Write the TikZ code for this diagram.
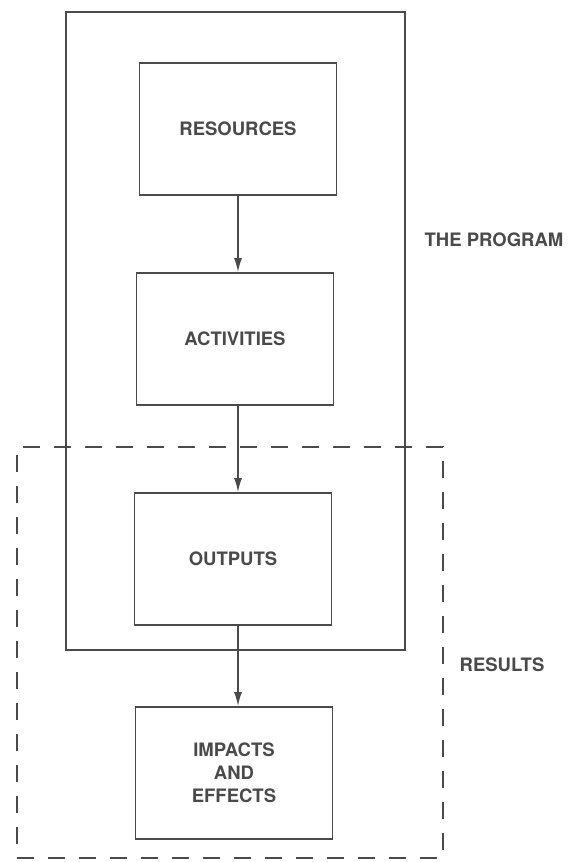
\documentclass[tikz,border=0pt]{standalone}
\usepackage{fontspec}
\setmainfont{TeX Gyre Heros}
\usepackage{xcolor}
\usetikzlibrary{calc,arrows.meta,positioning}
\definecolor{ink}{HTML}{4A4A4A}

\begin{document}
\begin{tikzpicture}
[x=1pt,y=-1pt,every node/.style={shape=rectangle,inner sep=2pt,text=ink,
	font=\fontsize{18.5}{23}\selectfont\bfseries,align=center},
 box/.style={draw=ink,line width=1.8pt,minimum width=197pt,minimum height=132pt},
 link/.style={draw=ink,line width=1.5pt,-{Latex[length=14pt,width=8pt]}}]
\useasboundingbox (0,0) rectangle (571,862);
% the program frame and the results region
\node[draw=ink,line width=1.8pt,minimum width=339pt,minimum height=638pt] (program) at (235.5,331) {};
\node[draw=ink,line width=1.8pt,dash pattern=on 17pt off 14pt,minimum width=426pt,minimum height=411pt] (results) at (230,652.5) {};
% boxes
\node[box] (res) at (238,129) {RESOURCES};
\node[box] (act) at (235,339) {ACTIVITIES};
\node[box] (out) at (233,559) {OUTPUTS};
\node[box] (imp) at (234,773) {IMPACTS\\AND\\EFFECTS};
% side labels
\node (progLabel) at (494,240) {THE PROGRAM};
\node (resLabel) at (502,665) {RESULTS};
\path
\foreach \startNode/\endNode in {res/act,act/out,out/imp}
{
	(\startNode.south -| 238,0) edge[link] (\endNode.north -| 238,0)
};
\end{tikzpicture}
\end{document}
